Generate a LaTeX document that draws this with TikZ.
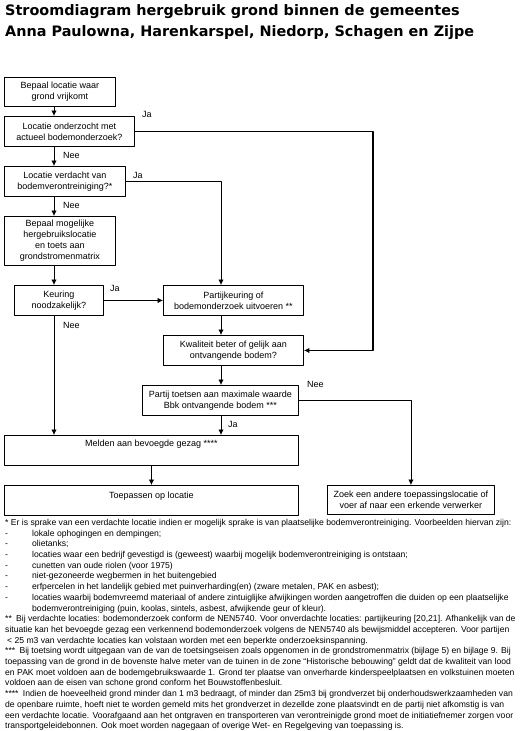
\documentclass[tikz,border=0pt]{standalone}
\usepackage{fontspec}
\setmainfont{Liberation Sans}
\newfontfamily\titelfont{DejaVu Sans}
\usetikzlibrary{calc,arrows.meta}

\begin{document}
\begin{tikzpicture}[x=1pt,y=-1pt,>={Latex[length=5.5pt,width=5.5pt]}, line join=round,
	kader/.style={draw, line width=0.9pt, anchor=north west, inner sep=2pt, align=center, font=\fontsize{9}{11}\selectfont},
	boven/.style={text height=#1, text depth=26pt-#1},
	pijl/.style={->, line width=0.8pt},
	keuze/.style={anchor=west, inner sep=0pt, font=\fontsize{9}{11}\selectfont},
	titel/.style={anchor=base west, inner sep=0pt, font=\titelfont\fontsize{14.4}{18}\selectfont\bfseries}]
	\useasboundingbox (0,0) rectangle (532,731);
	\def\streep#1{\makebox[27pt][l]{-}#1}
	% titel
	\node[titel] (titel1) at (5,15) {Stroomdiagram hergebruik grond binnen de gemeentes};
	\node[titel] (titel2) at (5,36) {Anna Paulowna, Harenkarspel, Niedorp, Schagen en Zijpe};
	% kolommen voor de pijlen
	\coordinate (links) at (54,0);
	\coordinate (midden) at (221,0);
	\coordinate (rechts) at (373,0);
	% stappen
	\node[kader, minimum width=111pt, minimum height=29pt] (b1) at (4,77) {Bepaal locatie waar\\grond vrijkomt};
	\node[kader, minimum width=130pt, minimum height=30pt] (b2) at (4,116) {Locatie onderzocht met\\actueel bodemonderzoek?};
	\node[kader, minimum width=121pt, minimum height=30pt] (b3) at (4,166) {Locatie verdacht van\\bodemverontreiniging?*};
	\node[kader, minimum width=111pt, minimum height=49pt] (b4) at (4,216) {Bepaal mogelijke\\hergebruikslocatie\\en toets aan\\grondstromenmatrix};
	\node[kader, minimum width=89pt, minimum height=30pt] (b5) at (14,285) {Keuring\\noodzakelijk?};
	\node[kader, minimum width=140pt, minimum height=30pt] (b6) at (163,285) {Partijkeuring of\\bodemonderzoek uitvoeren **};
	\node[kader, minimum width=140pt, minimum height=30pt] (b7) at (163,335) {Kwaliteit beter of gelijk aan\\ontvangende bodem?};
	\node[kader, minimum width=156pt, minimum height=30pt] (b8) at (142,385) {Partij toetsen aan maximale waarde\\Bbk ontvangende bodem ***};
	\node[kader, minimum width=294pt, minimum height=30pt, boven=9pt] (b9) at (4,435) {Melden aan bevoegde gezag ****};
	\node[kader, minimum width=294pt, minimum height=29pt, boven=11pt] (b11) at (4,485) {Toepassen op locatie};
	\node[kader, minimum width=167pt, minimum height=29pt] (b10) at (327,485) {Zoek een andere toepassingslocatie of\\voer af naar een erkende verwerker};
	% pijlen
	\draw[pijl] (b1.south -| links) -- (b2.north -| links);
	\draw[pijl] (b2.south -| links) -- (b3.north -| links);
	\draw[pijl] (b3.south -| links) -- (b4.north -| links);
	\draw[pijl] (b4.south -| links) -- (b5.north -| links);
	\draw[pijl] (b5.south -| links) -- (b9.north -| links);
	\draw[pijl] (b5.east) -- (b6.west);
	\draw[pijl] (b3.east) -- (b3.east -| midden) -- (b6.north -| midden);
	\draw[pijl] (b6.south -| midden) -- (b7.north -| midden);
	\draw[pijl] (b7.south -| midden) -- (b8.north -| midden);
	\draw[pijl] (b8.south -| midden) -- (b9.north -| midden);
	\draw[pijl] (b9.south) -- (b11.north);
	\draw[pijl] (b8.east) -| (b10.north);
	\draw[pijl, line width=1.4pt] (b2.east) -- (b2.east -| rechts) -- (b7.east -| rechts) -- (b7.east);
	% ja / nee
	\node[keuze] (ja1) at (142,114) {Ja};
	\node[keuze] (nee1) at (63,155) {Nee};
	\node[keuze] (ja2) at (133,175) {Ja};
	\node[keuze] (nee2) at (63,205) {Nee};
	\node[keuze] (ja3) at (110,288) {Ja};
	\node[keuze] (nee3) at (63,325) {Nee};
	\node[keuze] (nee4) at (307,384) {Nee};
	\node[keuze] (ja4) at (228,424) {Ja};
	% voetnoten
	\node[anchor=north west, inner sep=0pt, align=left, font=\fontsize{8.6}{10.7}\selectfont] (noten) at (5,519) {%
		* Er is sprake van een verdachte locatie indien er mogelijk sprake is van plaatselijke bodemverontreiniging. Voorbeelden hiervan zijn:\\
		\streep{lokale ophogingen en dempingen;}\\
		\streep{olietanks;}\\
		\streep{locaties waar een bedrijf gevestigd is (geweest) waarbij mogelijk bodemverontreiniging is ontstaan;}\\
		\streep{cunetten van oude riolen (voor 1975)}\\
		\streep{niet-gezoneerde wegbermen in het buitengebied}\\
		\streep{erfpercelen in het landelijk gebied met puinverharding(en) (zware metalen, PAK en asbest);}\\
		\streep{locaties waarbij bodemvreemd materiaal of andere zintuiglijke afwijkingen worden aangetroffen die duiden op een plaatselijke}\\
		\hspace*{27pt}bodemverontreiniging (puin, koolas, sintels, asbest, afwijkende geur of kleur).\\
		**\enspace Bij verdachte locaties: bodemonderzoek conform de NEN5740. Voor onverdachte locaties: partijkeuring [20,21]. Afhankelijk van de\\
		situatie kan het bevoegde gezag een verkennend bodemonderzoek volgens de NEN5740 als bewijsmiddel accepteren. Voor partijen\\
		\hspace*{2pt}< 25 m3 van verdachte locaties kan volstaan worden met een beperkte onderzoeksinspanning.\\
		***\enspace Bij toetsing wordt uitgegaan van de van de toetsingseisen zoals opgenomen in de grondstromenmatrix (bijlage 5) en bijlage 9. Bij\\
		toepassing van de grond in de bovenste halve meter van de tuinen in de zone “Historische bebouwing” geldt dat de kwaliteit van lood\\
		en PAK moet voldoen aan de bodemgebruikswaarde 1. Grond ter plaatse van onverharde kinderspeelplaatsen en volkstuinen moeten\\
		voldoen aan de eisen van schone grond conform het Bouwstoffenbesluit.\\
		****\enspace Indien de hoeveelheid grond minder dan 1 m3 bedraagt, of minder dan 25m3 bij grondverzet bij onderhoudswerkzaamheden van\\
		de openbare ruimte, hoeft niet te worden gemeld mits het grondverzet in dezellde zone plaatsvindt en de partij niet afkomstig is van\\
		een verdachte locatie. Voorafgaand aan het ontgraven en transporteren van verontreinigde grond moet de initiatiefnemer zorgen voor\\
		transportgeleidebonnen. Ook moet worden nagegaan of overige Wet- en Regelgeving van toepassing is.};
\end{tikzpicture}
\end{document}
